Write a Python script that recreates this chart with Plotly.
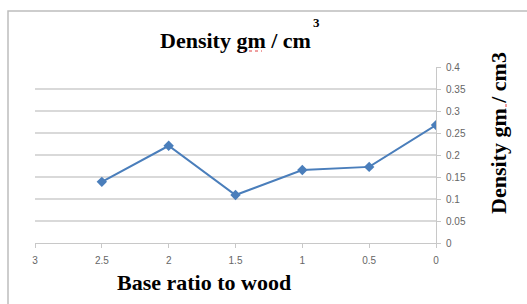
import plotly.graph_objects as go

ratio = [2.5, 2, 1.5, 1, 0.5, 0]
density = [0.139, 0.221, 0.109, 0.166, 0.173, 0.268]
x_ticks = [3, 2.5, 2, 1.5, 1, 0.5, 0]
y_ticks = [0, 0.05, 0.1, 0.15, 0.2, 0.25, 0.3, 0.35, 0.4]

W, H = 527, 304
L, R, T, B = 35, 91, 67, 61
pw, ph = W - L - R, H - T - B

def px(xp):
    return (xp - L) / pw

def py(yp):
    return (H - B - yp) / ph

fig = go.Figure()
fig.add_trace(go.Scatter(
    x=ratio, y=density, mode="lines+markers",
    line=dict(color="#4a7ebb", width=2),
    marker=dict(symbol="diamond", size=8, color="#4a7ebb"),
    showlegend=False,
))

serif = "Liberation Serif, Times New Roman, serif"
tickfont = dict(family="Liberation Sans, Arial", size=10, color="#666666")
fig.update_layout(
    width=W, height=H,
    margin=dict(l=L, r=R, t=T, b=B),
    paper_bgcolor="white", plot_bgcolor="white",
    xaxis=dict(
        range=[3, 0], tickvals=x_ticks, ticktext=[str(v) for v in x_ticks],
        showgrid=False, zeroline=False, showline=True, linecolor="#c8c8c8", linewidth=1,
        ticks="outside", ticklen=4, tickcolor="#c8c8c8", ticklabelstandoff=4,
        tickfont=tickfont,
    ),
    yaxis=dict(
        range=[0, 0.4], tickvals=y_ticks, ticktext=[f"{v:g}" for v in y_ticks],
        side="right", showgrid=True, gridcolor="#d9d9d9", gridwidth=1.5,
        zeroline=False, showline=True, linecolor="#c8c8c8", linewidth=1,
        ticks="outside", ticklen=4, tickcolor="#c8c8c8", ticklabelstandoff=3,
        tickfont=tickfont,
    ),
    shapes=[
        dict(type="rect", xref="paper", yref="paper",
             x0=px(8), x1=px(540), y0=py(320), y1=py(11),
             line=dict(color="#bdbdbd", width=1.5), layer="below"),
        dict(type="line", xref="paper", yref="paper",
             x0=px(237), x1=px(262), y0=py(51), y1=py(51),
             line=dict(color="#e04040", width=1, dash="dot")),
        dict(type="line", xref="paper", yref="paper",
             x0=px(506), x1=px(506), y0=py(104), y1=py(122),
             line=dict(color="#e04040", width=1, dash="dot")),
    ],
    annotations=[
        dict(text="<b>Density gm / cm</b>", xref="paper", yref="paper",
             x=px(235), y=py(40), showarrow=False, xanchor="center", yanchor="middle",
             font=dict(family=serif, size=22, color="black")),
        dict(text="<b>3</b>", xref="paper", yref="paper",
             x=px(316), y=py(22), showarrow=False, xanchor="center", yanchor="middle",
             font=dict(family=serif, size=13, color="black")),
        dict(text="<b>Base ratio to wood</b>", xref="paper", yref="paper",
             x=px(204), y=py(282), showarrow=False, xanchor="center", yanchor="middle",
             font=dict(family=serif, size=22, color="black")),
        dict(text="<b>Density gm / cm3</b>", xref="paper", yref="paper",
             x=px(498), y=py(133), showarrow=False, xanchor="center", yanchor="middle",
             textangle=-90,
             font=dict(family=serif, size=22, color="black")),
    ],
)
fig.write_html("out.html", config={"displayModeBar": False},
               post_script="document.body.style.margin='0';document.body.style.overflow='hidden';")
